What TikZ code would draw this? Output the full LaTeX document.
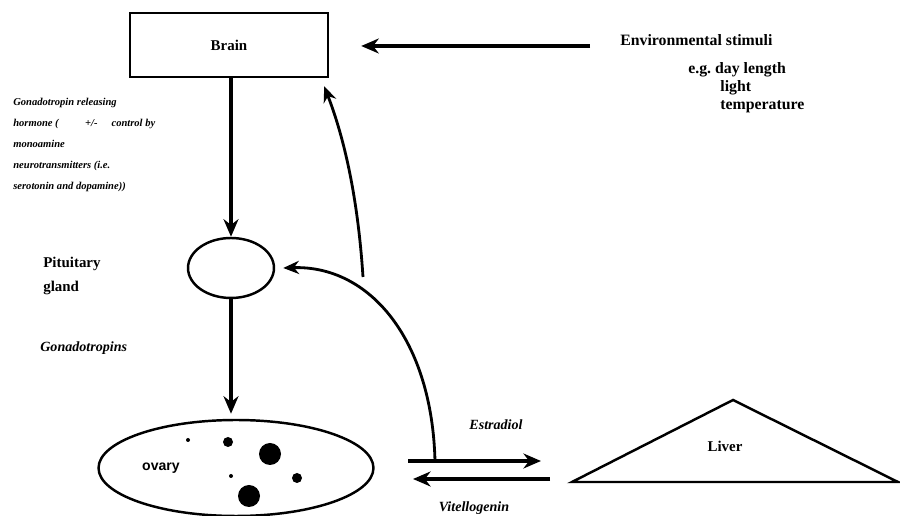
\documentclass[tikz,border=0pt]{standalone}
\usepackage{fontspec}
\setmainfont{Liberation Serif}
\setsansfont{Liberation Sans}
\usetikzlibrary{shapes.geometric,arrows.meta}

\begin{document}
\begin{tikzpicture}[x=0.02cm,y=-0.02cm,
  txt/.style={inner sep=0pt,font=\bfseries\fontsize{8.5}{9}\selectfont},
  itxt/.style={inner sep=0pt,font=\bfseries\itshape\fontsize{8}{9}\selectfont},
  envtxt/.style={inner sep=0pt,anchor=west,font=\bfseries\fontsize{9}{10}\selectfont},
  organ/.style={draw,line width=1.4pt},
  flow/.style={line width=2.2pt,-{Stealth[length=10pt,width=8.5pt]}},
  back/.style={line width=1.6pt,-{Stealth[length=9pt,width=7.5pt]}}]
\useasboundingbox (0,0) rectangle (900,516);

% organs
\node[organ,minimum width=3.96cm,minimum height=1.28cm,txt] (brain) at (229,45) {Brain};
\node[organ,ellipse,minimum width=1.72cm,minimum height=1.2cm] (pit) at (231,268) {};
\node[organ,ellipse,minimum width=5.5cm,minimum height=1.92cm] (ovary) at (236,468) {};
\node[inner sep=0pt,font=\sffamily\bfseries\fontsize{8}{9}\selectfont] (ovarytxt) at (161,468) {ovary};
\coordinate (la) at (733,400);
\coordinate (ll) at (572,482);
\coordinate (lr) at (898,482);
\draw[line width=1.4pt] (ll) -- (la) -- (lr) -- cycle;
\node[txt] (liver) at (725,446) {Liver};

% follicles
\fill (188,440) circle (2);
\fill (228,442) circle (5);
\fill (270,454) circle (11);
\fill (231,476) circle (2);
\fill (297,478) circle (5);
\fill (249,496) circle (11);

% labels
\node[envtxt] (env) at (620,40) {Environmental stimuli};
\node[envtxt] (eg) at (688,70) {e.g.\ day length};
\node[envtxt] (light) at (720,88) {light};
\node[envtxt] (temp) at (720,107) {temperature};
\node[inner sep=0pt,anchor=west,align=left,font=\bfseries\itshape\fontsize{6}{11.9}\selectfont] (gnrh) at (13,145)
  {Gonadotropin releasing\\ hormone (\hspace{15pt}+/-\hspace{8pt}control by\\ monoamine\\
   neurotransmitters (i.e.\\ serotonin and dopamine))};
\node[txt,anchor=west,align=left] (pittxt) at (43,276) {Pituitary\\[4.6pt] gland};
\node[itxt,anchor=west] (gth) at (40,348) {Gonadotropins};
\node[itxt] (estr) at (496,425) {Estradiol};
\node[itxt] (vtg) at (474,508) {Vitellogenin};

% arrows
\coordinate (envstart) at (590,46);
\coordinate (e1) at (408,461);
\coordinate (e2) at (541,461);
\coordinate (v1) at (550,479);
\coordinate (v2) at (413,479);
\coordinate (c1) at (363,277);
\coordinate (c2) at (435,461);
\draw[flow] (envstart) -- ([xshift=0.64cm]brain.east |- envstart);
\draw[flow] (brain.south -| pit.north) -- (pit.north);
\draw[flow] (pit.south) -- ([yshift=0.1cm]pit.south |- ovary.north);
\draw[flow] (e1) -- (e2);
\draw[flow] (v1) -- (v2);
\draw[back] (c1) .. controls (358,200) and (345,140) .. ([xshift=-0.1cm,yshift=-0.16cm]brain.south east);
\draw[back] (c2) .. controls (432,340) and (370,265) .. ([xshift=0.16cm]pit.east);

\end{tikzpicture}
\end{document}
